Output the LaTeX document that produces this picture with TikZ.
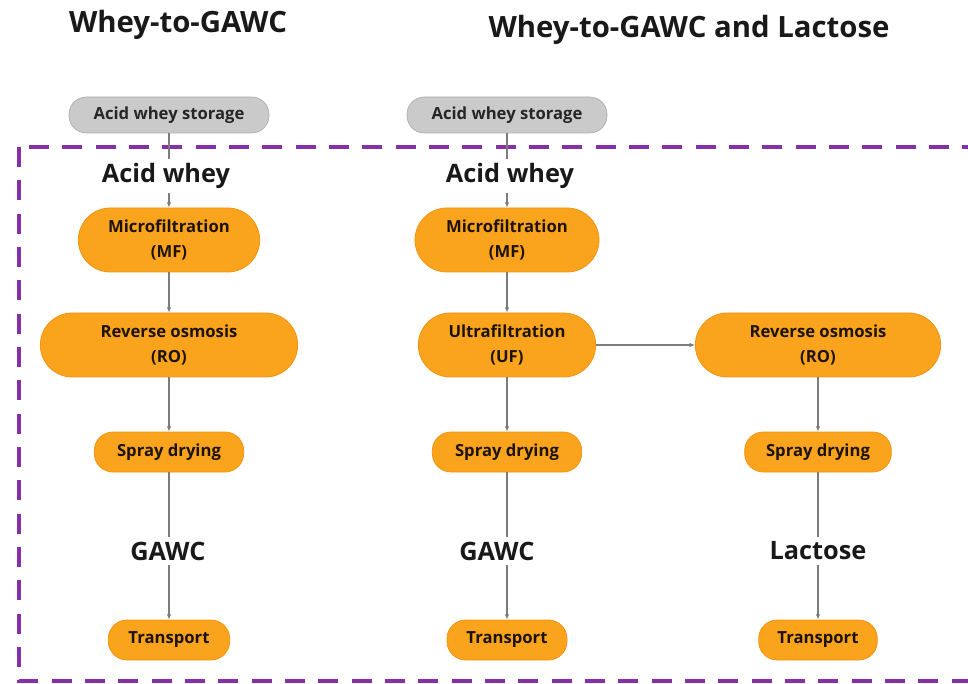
\documentclass[tikz,border=0pt]{standalone}
\usepackage{fontspec}
\setmainfont{Open Sans}
\usetikzlibrary{arrows.meta, positioning}

\definecolor{procorange}{HTML}{F9A41C}
\definecolor{procedge}{HTML}{F29312}
\definecolor{storegray}{HTML}{CACACA}
\definecolor{framepurple}{HTML}{8530A9}
\definecolor{linkgray}{HTML}{7C7C7C}

\tikzset{
  proc/.style={fill=procorange, draw=procedge, line width=0.6pt,
    rounded corners=24pt, minimum height=48pt, inner sep=0pt,
    align=center, text=black!85!brown,
    font=\bfseries\fontsize{12.5}{18.5}\selectfont},
  small/.style={proc, rounded corners=14pt, minimum height=30pt},
  store/.style={fill=storegray, draw=storegray!85!black, line width=0.5pt,
    rounded corners=13pt, minimum width=150pt, minimum height=27pt,
    inner sep=0pt, text=black!85,
    font=\bfseries\fontsize{12.5}{15}\selectfont},
  stream/.style={font=\bfseries\fontsize{19}{22}\selectfont, text=black!90},
  title/.style={font=\bfseries\fontsize{22}{26}\selectfont, text=black!90},
  link/.style={draw=linkgray, line width=0.9pt},
  flow/.style={link, -{Latex[length=4pt, width=3.5pt]}}
}

\begin{document}
\begin{tikzpicture}[x=0.75pt, y=-0.75pt]
  \useasboundingbox (0,0) rectangle (968,684);
  \clip (0,0) rectangle (968,684);

  % system boundary
  \draw[framepurple, line width=2.4pt, dash pattern=on 15pt off 10pt]
    (19,147) rectangle (1000,681);

  \node[title] (t1) at (178,25) {Whey-to-GAWC};
  \node[title] (t2) at (689,30) {Whey-to-GAWC and Lactose};

  % Whey-to-GAWC
  \node[store] (s1) at (169,115) {Acid whey storage};
  \node[stream] (aw1) at (166,176) {Acid whey};
  \node[proc, minimum width=136pt] (mf1) at (169,240) {Microfiltration\\(MF)};
  \node[proc, minimum width=193pt] (ro1) at (169,345) {Reverse osmosis\\(RO)};
  \node[small, minimum width=112pt] (sd1) at (169,452) {Spray drying};
  \node[stream] (g1) at (168,551) {GAWC};
  \node[small, minimum width=91pt] (tr1) at (169,640) {Transport};

  \draw[link] (s1) -- (s1 |- aw1.north);
  \draw[flow] (aw1.south -| mf1) -- (mf1);
  \draw[flow] (mf1) -- (ro1);
  \draw[flow] (ro1) -- (sd1);
  \draw[link] (sd1) -- (sd1 |- g1.north);
  \draw[flow] (g1.south -| tr1) -- (tr1);

  % Whey-to-GAWC and Lactose
  \node[store] (s2) at (507,115) {Acid whey storage};
  \node[stream] (aw2) at (510,176) {Acid whey};
  \node[proc, minimum width=138pt] (mf2) at (507,240) {Microfiltration\\(MF)};
  \node[proc, minimum width=133pt] (uf2) at (507,345) {Ultrafiltration\\(UF)};
  \node[proc, minimum width=184pt] (ro2) at (818,345) {Reverse osmosis\\(RO)};
  \node[small, minimum width=112pt] (sd2) at (507,452) {Spray drying};
  \node[small, minimum width=110pt] (sd3) at (818,452) {Spray drying};
  \node[stream] (g2) at (497,551) {GAWC};
  \node[stream] (lac) at (818,551) {Lactose};
  \node[small, minimum width=90pt] (tr2) at (507,640) {Transport};
  \node[small, minimum width=89pt] (tr3) at (818,640) {Transport};

  \draw[link] (s2) -- (s2 |- aw2.north);
  \draw[flow] (aw2.south -| mf2) -- (mf2);
  \draw[flow] (mf2) -- (uf2);
  \draw[flow] (uf2) -- (ro2);
  \draw[flow] (uf2) -- (sd2);
  \draw[flow] (ro2) -- (sd3);
  \draw[link] (sd2) -- (sd2 |- g2.north);
  \draw[flow] (g2.south -| tr2) -- (tr2);
  \draw[link] (sd3) -- (lac);
  \draw[flow] (lac) -- (tr3);
\end{tikzpicture}
\end{document}
